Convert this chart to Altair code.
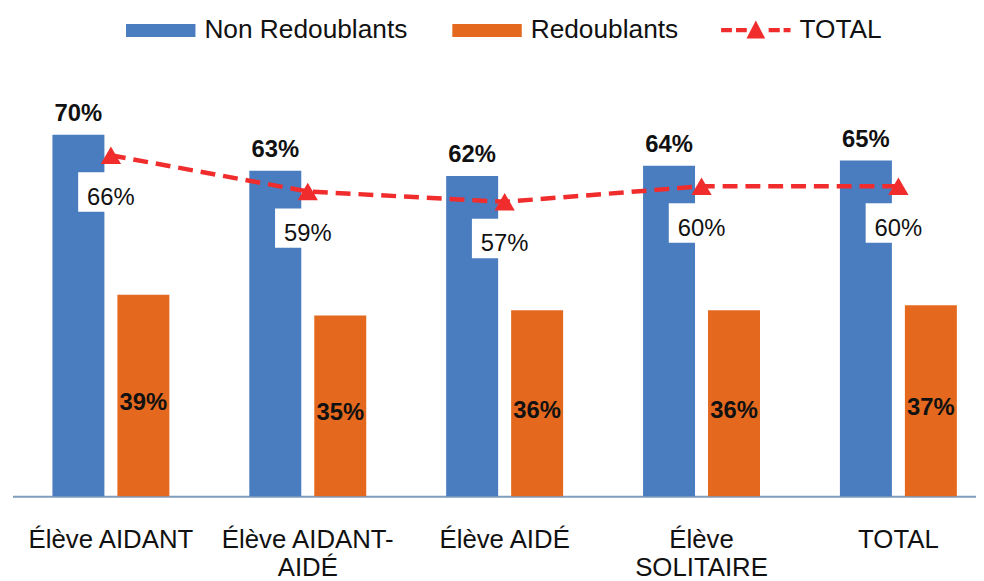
import altair as alt
import pandas as pd

categories = ["Élève AIDANT", "Élève AIDANT-AIDÉ", "Élève AIDÉ", "Élève SOLITAIRE", "TOTAL"]
non_redoublants = [70, 63, 62, 64, 65]
redoublants = [39, 35, 36, 36, 37]
total = [66, 59, 57, 60, 60]
series_names = ["Non Redoublants", "Redoublants", "TOTAL"]
series_colors = ["#4a7dc0", "#e4691f", "#f02c2c"]

FONT = "Liberation Sans"
TXT = "#111111"

bars_df = pd.DataFrame({
    "categorie": categories * 2,
    "serie": [series_names[0]] * len(categories) + [series_names[1]] * len(categories),
    "valeur": non_redoublants + redoublants,
})
line_df = pd.DataFrame({"categorie": categories, "serie": series_names[2], "valeur": total})

RECT_PATH = "M-1,-0.186H1V0.186H-1Z"
TOTAL_PATH = ("M-1,-0.06H-0.69V0.06H-1Z M-0.57,-0.06H-0.26V0.06H-0.57Z "
              "M0.37,-0.06H0.69V0.06H0.37Z M0.8,-0.06H1V0.06H0.8Z "
              "M-0.27,0.24L0,-0.28L0.27,0.24Z")
BOX_PATH = "M-1,-0.6H1V0.6H-1Z"

label_expr = ("datum.value == 'Élève AIDANT-AIDÉ' ? ['Élève AIDANT-', 'AIDÉ'] : "
              "datum.value == 'Élève SOLITAIRE' ? ['Élève', 'SOLITAIRE'] : datum.value")

x_enc = alt.X(
    "categorie:N",
    sort=categories,
    scale=alt.Scale(domain=categories, range=[4.5, 997], paddingInner=0.406, paddingOuter=0.203),
    axis=alt.Axis(
        title=None, ticks=False, grid=False, labelAngle=0, labelFont=FONT, labelFontSize=26,
        labelColor=TXT, labelPadding=31, labelExpr=label_expr, labelLineHeight=28,
        labelLimit=400, labelOverlap=False, domainColor="#7f9dbc", domainWidth=2,
    ),
)
xoff_enc = alt.XOffset("serie:N", scale=alt.Scale(domain=series_names[:2], paddingInner=0.2, paddingOuter=0))
y_scale = alt.Scale(domain=[0, 78.7], nice=False, zero=True)
y_enc = alt.Y("valeur:Q", scale=y_scale, axis=None)

common_legend = dict(
    title=None, orient="none", direction="horizontal", symbolSize=4900, labelLimit=400,
    labelFont=FONT, labelFontSize=26.5, labelColor=TXT, labelOffset=9, padding=0, symbolStrokeWidth=0,
)

bar_legend = alt.Legend(legendX=119, legendY=-95, columnPadding=45, symbolType=RECT_PATH, **common_legend)
line_legend = alt.Legend(legendX=719, legendY=-95, symbolType=TOTAL_PATH, symbolFillColor=series_colors[2],
                         symbolOpacity=1, **common_legend)

base_bars = alt.Chart(bars_df).transform_calculate(label="datum.valeur + '%'", mid="datum.valeur / 2")

bars = base_bars.mark_bar().encode(
    x=x_enc, xOffset=xoff_enc, y=y_enc,
    color=alt.Color("serie:N", scale=alt.Scale(domain=series_names[:2], range=series_colors[:2]),
                    legend=bar_legend),
)

blue_labels = base_bars.transform_filter(f"datum.serie == '{series_names[0]}'").mark_text(
    font=FONT, fontSize=24, fontWeight="bold", color=TXT, baseline="alphabetic", dy=-14
).encode(x=x_enc, xOffset=xoff_enc, y=y_enc, text="label:N")

orange_labels = base_bars.transform_filter(f"datum.serie == '{series_names[1]}'").mark_text(
    font=FONT, fontSize=24, fontWeight="bold", color=TXT, baseline="alphabetic", dy=14.5
).encode(x=x_enc, xOffset=xoff_enc, y=alt.Y("mid:Q", scale=y_scale, axis=None), text="label:N")

base_line = alt.Chart(line_df).transform_calculate(label="datum.valeur + '%'")

boxes = base_line.mark_point(shape=BOX_PATH, size=66 * 66, filled=True, color="white", opacity=1,
                             strokeWidth=0, yOffset=37).encode(x=x_enc, y=y_enc)

line = base_line.mark_line(color=series_colors[2], strokeWidth=4.5).encode(
    x=x_enc, y=y_enc,
    strokeDash=alt.StrokeDash("serie:N", scale=alt.Scale(domain=series_names[2:], range=[[15, 8]]),
                              legend=line_legend),
)

tri = base_line.mark_point(shape="triangle-up", size=420, filled=True, color=series_colors[2], opacity=1).encode(
    x=x_enc, y=y_enc)

line_labels = base_line.mark_text(font=FONT, fontSize=24, color=TXT, baseline="alphabetic", dy=50).encode(
    x=x_enc, y=y_enc, text="label:N")

chart = alt.layer(bars, boxes, line, tri, blue_labels, orange_labels, line_labels).properties(
    width=976, height=410,
    autosize=alt.AutoSizeParams(type="none"),
    padding={"left": 0, "top": 80, "right": 0, "bottom": 83},
).configure_view(stroke=None)

chart.save("out.html", embed_options={"renderer": "svg", "actions": False})
